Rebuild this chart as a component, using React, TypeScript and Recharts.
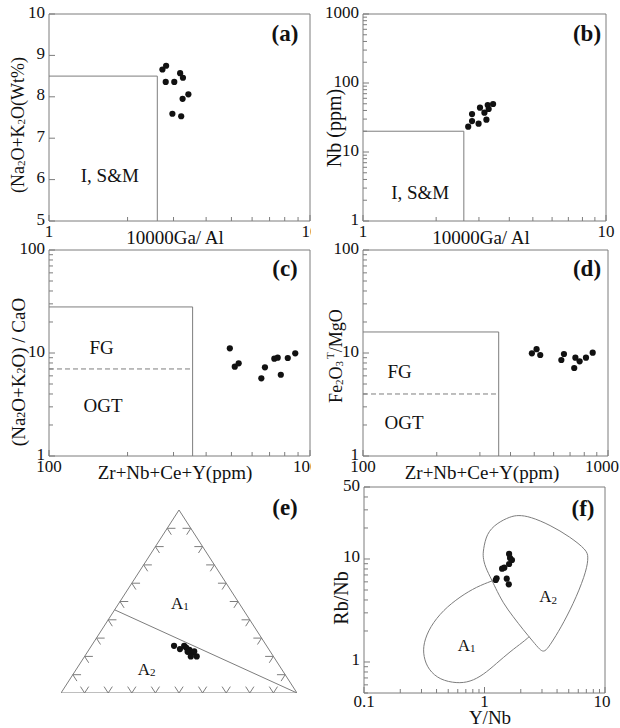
import React from 'react';
import { ScatterChart, Scatter, XAxis, YAxis, ReferenceArea, ReferenceLine } from 'recharts';

const FONT = "'Liberation Serif', 'Times New Roman', serif";
const LINE = '#7d7d7d';
const INK = '#111';

// ---------- (a) 10000Ga/Al vs Na2O+K2O ----------
const aGaAl = [2.72, 2.81, 2.80, 3.02, 3.18, 3.26, 2.97, 3.21, 3.25, 3.42];
const aAlk = [8.66, 8.75, 8.36, 8.36, 8.57, 8.46, 7.59, 7.53, 7.95, 8.06];
const aFieldX = [1, 2.6, 2.6];
const aFieldY = [8.5, 8.5, 5];

// ---------- (b) 10000Ga/Al vs Nb ----------
const bGaAl = [2.71, 2.81, 2.81, 2.99, 3.03, 3.16, 3.22, 3.26, 3.29, 3.43];
const bNb = [23.3, 28.1, 35.5, 25.7, 43.9, 37.1, 29.4, 48.0, 42.0, 49.6];
const bFieldX = [1, 2.6, 2.6];
const bFieldY = [20, 20, 1];

// ---------- (c) Zr+Nb+Ce+Y vs (Na2O+K2O)/CaO ----------
const cZrNbCeY = [493, 515, 533, 651, 672, 730, 752, 773, 822, 878];
const cAlkCaO = [11.1, 7.36, 7.94, 5.68, 7.26, 8.81, 9.0, 6.15, 8.94, 9.93];
const cFieldX = [100, 355, 355];
const cFieldY = [28, 28, 1];
const cDashY = 7;

// ---------- (d) Zr+Nb+Ce+Y vs FeOT/MgO ----------
const dZrNbCeY = [489, 511, 529, 645, 661, 736, 728, 766, 813, 866];
const dFeMg = [9.93, 10.9, 9.56, 8.55, 9.78, 9.0, 7.15, 8.30, 9.0, 10.07];
const dFieldX = [100, 358, 358];
const dFieldY = [16, 16, 1];
const dDashY = 4;

// ---------- (e) Nb - Y - 3Ga ternary (percent) ----------
const eNb = [25.8, 24.0, 25.8, 23.6, 22.1, 20.0, 20.0, 22.7, 24.8, 22.5];
const eY = [39.2, 37.6, 34.9, 33.8, 33.1, 35.0, 32.5, 32.2, 34.6, 35.1];
const eGa = [35.0, 38.4, 39.3, 42.6, 44.8, 45.0, 47.5, 45.1, 40.6, 42.4];
const eBoundaryNb = [45.45, 0];
const eBoundaryY = [54.55, 0];
const eBoundaryGa = [0, 100];
const triTicks = [10, 20, 30, 40, 50, 60, 70, 80, 90];
const tickArm = 3.5;

// ---------- (f) Y/Nb vs Rb/Nb ----------
const fYNb = [1.60, 1.63, 1.69, 1.60, 1.46, 1.40, 1.26, 1.24, 1.53, 1.59];
const fRbNb = [11.2, 10.2, 9.78, 8.94, 8.23, 8.05, 6.49, 6.25, 6.44, 5.68];
const fA2YNb = [0.977, 1.04, 1.26, 1.63, 1.91, 2.39, 3.50, 5.13, 7.05, 7.27, 7.05, 5.82, 4.51, 3.72, 3.28, 3.08, 2.89, 2.54, 2.10, 1.73, 1.43, 1.22, 1.15, 1.01, 0.97];
const fA2RbNb = [12.2, 17.7, 22.2, 25.8, 26.7, 25.8, 21.4, 16.4, 12.2, 10.5, 7.82, 4.30, 2.37, 1.63, 1.31, 1.26, 1.31, 1.57, 2.05, 2.75, 3.71, 5.38, 6.25, 8.42, 10.5];
const fA1YNb = [1.17, 0.861, 0.626, 0.455, 0.353, 0.311, 0.311, 0.342, 0.427, 0.588, 0.759, 0.977, 1.26, 1.63, 2.10, 2.35];
const fA1RbNb = [6.16, 5.38, 4.30, 3.20, 2.20, 1.52, 1.13, 0.84, 0.67, 0.62, 0.64, 0.75, 0.97, 1.26, 1.57, 1.76];

// ---------- ticks ----------
const ticks1to10 = [1, 2, 3, 4, 5, 6, 7, 8, 9, 10];
const ticks5to10 = [5, 6, 7, 8, 9, 10];
const ticks1to1000 = [1, 2, 3, 4, 5, 6, 7, 8, 9, 10, 20, 30, 40, 50, 60, 70, 80, 90, 100, 200, 300, 400, 500, 600, 700, 800, 900, 1000];
const ticks1to100 = [1, 2, 3, 4, 5, 6, 7, 8, 9, 10, 20, 30, 40, 50, 60, 70, 80, 90, 100];
const ticks100to1000 = [100, 200, 300, 400, 500, 600, 700, 800, 900, 1000];
const ticks01to10 = [0.1, 0.2, 0.3, 0.4, 0.5, 0.6, 0.7, 0.8, 0.9, 1, 2, 3, 4, 5, 6, 7, 8, 9, 10];
const ticks05to50 = [0.5, 0.6, 0.7, 0.8, 0.9, 1, 2, 3, 4, 5, 6, 7, 8, 9, 10, 20, 30, 40, 50];

// ---------- annotations (data coordinates) ----------
const aNotes = [{ x: 1.71, y: 6.11, main: 'I, S&M', sub: '' }];
const bNotes = [{ x: 1.72, y: 2.57, main: 'I, S&M', sub: '' }];
const cNotes = [{ x: 159, y: 11.3, main: 'FG', sub: '' }, { x: 161, y: 3.08, main: 'OGT', sub: '' }];
const dNotes = [{ x: 141, y: 6.58, main: 'FG', sub: '' }, { x: 147, y: 2.12, main: 'OGT', sub: '' }];
const eNotes = [{ x: 0.504, y: 0.491, main: 'A', sub: '1' }, { x: 0.363, y: 0.131, main: 'A', sub: '2' }];
const eVertexNotes = [{ x: 0.5, y: 1.045, main: 'Nb', sub: '' }, { x: -0.013, y: -0.073, main: 'Y', sub: '' }, { x: 0.996, y: -0.073, main: '3Ga', sub: '' }];
const fNotes = [{ x: 0.711, y: 1.46, main: 'A', sub: '1' }, { x: 3.38, y: 4.30, main: 'A', sub: '2' }];

const pts = (xs: number[], ys: number[]) => xs.map((x, i) => ({ x, y: ys[i] }));

const tern = (nb: number, y: number, ga: number) => {
  const s = nb + y + ga;
  const n = nb / s;
  const g = ga / s;
  return { x: g + n / 2, y: n };
};

const Dot = (p: any) => <circle cx={p.cx} cy={p.cy} r={3.1} fill={INK} />;
const NoShape = () => <g />;
const makeText = (size: number) => (p: any) => {
  const d = p.payload;
  return (
    <text x={p.cx} y={p.cy} textAnchor="middle" dominantBaseline="central" fontFamily={FONT} fontSize={size} fill={INK}>
      {d.main}
      {d.sub ? <tspan fontSize={size * 0.65} dy={3}>{d.sub}</tspan> : null}
    </text>
  );
};
const Text19 = makeText(19);
const Text17 = makeText(17);

const BottomTick = (p: any) => {
  const { x, y, payload, labels, lastShift, labelDrop } = p;
  const v = payload.value;
  const major = labels.includes(v);
  const shift = v === labels[labels.length - 1] ? (lastShift || 0) : 0;
  return (
    <g>
      <line x1={x} y1={y} x2={x} y2={y - (major ? 6 : 4)} stroke={LINE} />
      {major ? (
        <text x={x + shift} y={y + (labelDrop || 16)} textAnchor="middle" fontFamily={FONT} fontSize={17} fill={INK}>{String(v)}</text>
      ) : null}
    </g>
  );
};

const LeftTick = (p: any) => {
  const { x, y, payload, labels } = p;
  const v = payload.value;
  const major = labels.includes(v);
  return (
    <g>
      <line x1={x} y1={y} x2={x + (major ? 6 : 4)} y2={y} stroke={LINE} />
      {major ? (
        <text x={x - 4} y={y + 3.5} textAnchor="end" fontFamily={FONT} fontSize={17} fill={INK}>{String(v)}</text>
      ) : null}
    </g>
  );
};

const dots = (key: string, data: any[]) => (
  <Scatter key={key} data={data} shape={Dot} isAnimationActive={false} />
);
const poly = (key: string, data: any[], joint: string, dash?: string) => (
  <Scatter
    key={key}
    data={data}
    shape={NoShape}
    line={{ stroke: LINE, strokeWidth: 1, strokeDasharray: dash }}
    lineType="joint"
    lineJointType={joint as any}
    isAnimationActive={false}
  />
);
const notes = (key: string, data: any[], shape: any) => (
  <Scatter key={key} data={data} shape={shape} isAnimationActive={false} />
);

type PanelProps = {
  left: number; top: number; width: number; height: number;
  margin: { top: number; right: number; bottom: number; left: number };
  xDomain: number[]; yDomain: number[]; yScale: any;
  xTicks: number[]; yTicks: number[]; xLabels: number[]; yLabels: number[];
  lastShift?: number; labelDrop?: number;
  children: any;
};

const Panel = (p: PanelProps) => (
  <div style={{ position: 'absolute', left: p.left, top: p.top }}>
    <ScatterChart width={p.width} height={p.height} margin={p.margin}>
      <XAxis type="number" dataKey="x" scale="log" domain={p.xDomain} allowDataOverflow ticks={p.xTicks}
        interval={0} tickSize={0} tickMargin={0} axisLine={false} tickLine={false} height={20}
        tick={<BottomTick labels={p.xLabels} lastShift={p.lastShift} labelDrop={p.labelDrop} />} />
      <YAxis type="number" dataKey="y" scale={p.yScale} domain={p.yDomain} allowDataOverflow ticks={p.yTicks}
        interval={0} tickSize={0} tickMargin={0} axisLine={false} tickLine={false} width={40}
        tick={<LeftTick labels={p.yLabels} />} />
      <ReferenceArea x1={p.xDomain[0]} x2={p.xDomain[1]} y1={p.yDomain[0]} y2={p.yDomain[1]}
        fill="none" fillOpacity={0} stroke={LINE} strokeWidth={1} ifOverflow="visible" />
      {p.children}
    </ScatterChart>
  </div>
);

// ternary tick chevrons
const triTickSegments = () => {
  const segs: any[] = [];
  const d = tickArm;
  triTicks.forEach((t) => {
    const pb = tern(0, 100 - t, t);
    segs.push([pb, tern(d, 100 - t - d, t)]);
    segs.push([pb, tern(d, 100 - t, t - d)]);
    const pl = tern(t, 100 - t, 0);
    segs.push([pl, tern(t, 100 - t - d, d)]);
    segs.push([pl, tern(t - d, 100 - t, d)]);
    const pr = tern(t, 0, 100 - t);
    segs.push([pr, tern(t, d, 100 - t - d)]);
    segs.push([pr, tern(t - d, d, 100 - t)]);
  });
  return segs;
};

const Sub = ({ t, fs = 11 }: { t: string; fs?: number }) => (
  <tspan fontSize={fs} dy={3}>{t}</tspan>
);

const Titles = () => (
  <svg width={620} height={728} style={{ position: 'absolute', left: 0, top: 0, pointerEvents: 'none' }}>
    <g fontFamily={FONT} fill={INK} fontSize={19}>
      <text x={18} y={125} fontSize={18} transform="rotate(-90 18 125)" textAnchor="middle" dominantBaseline="central">
        (Na<Sub t="2" /><tspan dy={-3}>O+K</tspan><Sub t="2" /><tspan dy={-3}>O(Wt%)</tspan>
      </text>
      <text x={175} y={237} textAnchor="middle" dominantBaseline="central">10000Ga/ Al</text>
      <text x={334} y={128} fontSize={20} transform="rotate(-90 334 128)" textAnchor="middle" dominantBaseline="central">Nb (ppm)</text>
      <text x={481} y={237} textAnchor="middle" dominantBaseline="central">10000Ga/ Al</text>
      <text x={18} y={372} transform="rotate(-90 18 372)" textAnchor="middle" dominantBaseline="central">
        (Na<Sub t="2" fs={12} /><tspan dy={-3}>O+K</tspan><Sub t="2" fs={12} /><tspan dy={-3}>O) / CaO</tspan>
      </text>
      <text x={175} y={472} textAnchor="middle" dominantBaseline="central">Zr+Nb+Ce+Y(ppm)</text>
      <text x={336} y={356} fontSize={18} transform="rotate(-90 336 356)" textAnchor="middle" dominantBaseline="central">
        Fe<Sub t="2" /><tspan dy={-3}>O</tspan><Sub t="3" /><tspan fontSize={11} dx={2} dy={-9}>T</tspan><tspan dy={6}>/MgO</tspan>
      </text>
      <text x={482} y={472} textAnchor="middle" dominantBaseline="central">Zr+Nb+Ce+Y(ppm)</text>
      <text x={341} y={598} fontSize={20} transform="rotate(-90 341 598)" textAnchor="middle" dominantBaseline="central">Rb/Nb</text>
      <text x={490} y={717} fontSize={19} textAnchor="middle" dominantBaseline="central">Y/Nb</text>
    </g>
    <g fontFamily={FONT} fill={INK} fontSize={23} fontWeight="bold" textAnchor="middle" dominantBaseline="central">
      <text x={285} y={33}>(a)</text>
      <text x={587} y={33}>(b)</text>
      <text x={285} y={268}>(c)</text>
      <text x={587} y={268}>(d)</text>
      <text x={285} y={507}>(e)</text>
      <text x={583} y={508}>(f)</text>
    </g>
  </svg>
);

export default function App() {
  const eDots = eNb.map((n, i) => tern(n, eY[i], eGa[i]));
  const triangle = [tern(0, 100, 0), tern(0, 0, 100), tern(100, 0, 0)];
  const boundary = eBoundaryNb.map((n, i) => tern(n, eBoundaryY[i], eBoundaryGa[i]));
  const tSegs = triTickSegments();

  return (
    <div style={{ position: 'absolute', left: 0, top: 0, width: 620, height: 728, background: '#fff', overflow: 'hidden' }}>
      <Panel left={0} top={0} width={311} height={250} margin={{ top: 14, right: 1, bottom: 9, left: 9 }}
        xDomain={[1, 10]} yDomain={[5, 10]} yScale="linear" xTicks={ticks1to10} yTicks={ticks5to10}
        xLabels={[1, 10]} yLabels={ticks5to10}>
        {poly('af', pts(aFieldX, aFieldY), 'linear')}
        {notes('an', aNotes, Text19)}
        {dots('ad', pts(aGaAl, aAlk))}
      </Panel>

      <Panel left={310} top={0} width={310} height={250} margin={{ top: 14, right: 14, bottom: 9, left: 13 }}
        xDomain={[1, 10]} yDomain={[1, 1000]} yScale="log" xTicks={ticks1to10} yTicks={ticks1to1000}
        xLabels={[1, 10]} yLabels={[1, 10, 100, 1000]}>
        {poly('bf', pts(bFieldX, bFieldY), 'linear')}
        {notes('bn', bNotes, Text19)}
        {dots('bd', pts(bGaAl, bNb))}
      </Panel>

      <Panel left={0} top={235} width={311} height={250} margin={{ top: 15, right: 1, bottom: 9, left: 9 }}
        xDomain={[100, 1000]} yDomain={[1, 100]} yScale="log" xTicks={ticks100to1000} yTicks={ticks1to100}
        xLabels={[100, 1000]} yLabels={[1, 10, 100]}>
        {poly('cf', pts(cFieldX, cFieldY), 'linear')}
        {poly('cdash', [{ x: cFieldX[0], y: cDashY }, { x: cFieldX[1], y: cDashY }], 'linear', '5 3')}
        {notes('cn', cNotes, Text19)}
        {dots('cd', pts(cZrNbCeY, cAlkCaO))}
      </Panel>

      <Panel left={310} top={235} width={310} height={250} margin={{ top: 15, right: 12, bottom: 9, left: 13 }}
        xDomain={[100, 1000]} yDomain={[1, 100]} yScale="log" xTicks={ticks100to1000} yTicks={ticks1to100}
        xLabels={[100, 1000]} yLabels={[1, 10, 100]} lastShift={-6}>
        {poly('df', pts(dFieldX, dFieldY), 'linear')}
        {poly('ddash', [{ x: dFieldX[0], y: dDashY }, { x: dFieldX[1], y: dDashY }], 'linear', '5 3')}
        {notes('dn', dNotes, Text19)}
        {dots('dd', pts(dZrNbCeY, dFeMg))}
      </Panel>

      <div style={{ position: 'absolute', left: 0, top: 480 }}>
        <ScatterChart width={320} height={248} margin={{ top: 30, right: 23, bottom: 35, left: 61 }}>
          <XAxis type="number" dataKey="x" domain={[0, 1]} allowDataOverflow hide />
          <YAxis type="number" dataKey="y" domain={[0, 1]} allowDataOverflow hide />
          {poly('tri', triangle, 'linearClosed')}
          {poly('bnd', boundary, 'linear')}
          {tSegs.map((s, i) => (
            <ReferenceLine key={'tk' + i} segment={[{ x: s[0].x, y: s[0].y }, { x: s[1].x, y: s[1].y }]}
              stroke={LINE} strokeWidth={1} ifOverflow="visible" />
          ))}
          {notes('en', eNotes, Text17)}
          {notes('ev', eVertexNotes, Text19)}
          {dots('ed', eDots)}
        </ScatterChart>
      </div>

      <Panel left={310} top={470} width={310} height={258} margin={{ top: 17, right: 15, bottom: 15, left: 14 }}
        xDomain={[0.1, 10]} yDomain={[0.5, 50]} yScale="log" xTicks={ticks01to10} yTicks={ticks05to50}
        xLabels={[0.1, 1, 10]} yLabels={[1, 10, 50]} lastShift={-3} labelDrop={14}>
        {poly('fa2', pts(fA2YNb, fA2RbNb), 'basisClosed')}
        {poly('fa1', pts(fA1YNb, fA1RbNb), 'basis')}
        {notes('fn', fNotes, Text17)}
        {dots('fd', pts(fYNb, fRbNb))}
      </Panel>

      <Titles />
    </div>
  );
}
